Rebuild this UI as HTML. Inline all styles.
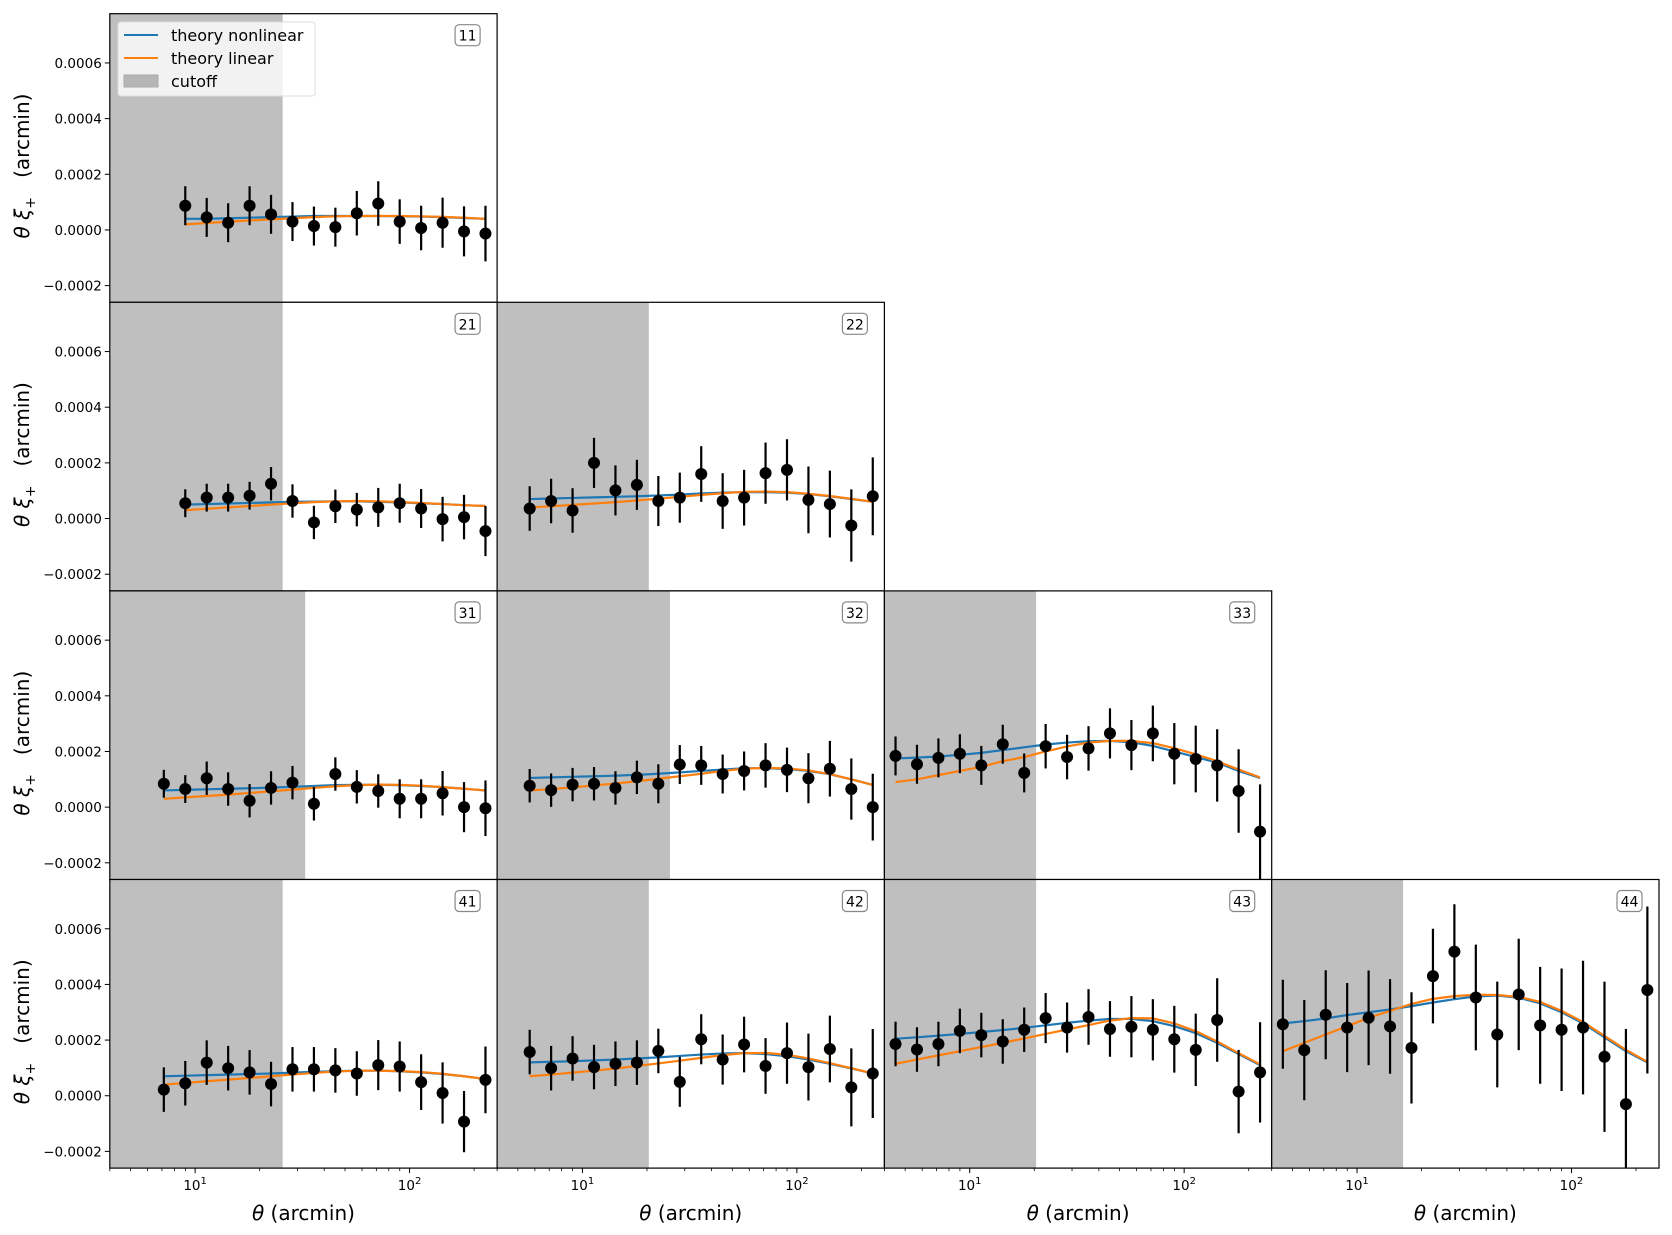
<!DOCTYPE html>
<html><head><meta charset="utf-8"><style>
html,body{margin:0;padding:0;background:#fff;}
svg{display:block;font-family:"DejaVu Sans","Liberation Sans",sans-serif;}
</style></head><body>
<svg id="fig" width="1672" height="1235" viewBox="0 0 1672 1235" xmlns="http://www.w3.org/2000/svg"></svg>
<script>
// ---- data ----
const logThetaStart = 0.654;          // log10(theta) of bin 0
const logThetaStep = 0.1;             // bin spacing in decades
const xDomain = [4.0, 256];
const yDomain = [-0.00026, 0.000777];
const yTicks = [-0.0002, 0, 0.0002, 0.0004, 0.0006];
const yTickLabels = ["\u22120.0002", "0.0000", "0.0002", "0.0004", "0.0006"];
const xTicks = [10, 100];
const panelIds = ["11","21","22","31","32","33","41","42","43","44"];
const panelStartBin = [3,3,1,2,1,0,2,1,0,0];
const cutoffs = [25.6,25.6,20.4,32.6,25.6,20.4,25.6,20.4,20.4,16.4];
const dataValues = [
 [0.000087,0.000045,0.000026,0.000087,0.000056,0.00003,0.000014,0.00001,0.00006,0.000095,0.00003,0.000007,0.000026,-0.000005,-0.000013],
 [0.000055,0.000075,0.000075,0.000082,0.000125,0.000063,-0.000014,0.000044,0.000032,0.00004,0.000055,0.000036,-0.000002,0.000005,-0.000045],
 [0.000036,0.000063,0.000029,0.0002,0.000101,0.000121,0.000063,0.000075,0.00016,0.000063,0.000075,0.000163,0.000175,0.000067,0.000052,-0.000025,0.00008],
 [0.000084,0.000065,0.000104,0.000065,0.000023,0.000069,0.000088,0.000012,0.000119,0.000073,0.000058,0.00003,0.00003,0.00005,0,-0.000004],
 [0.000077,0.000061,0.000081,0.000084,0.000069,0.000107,0.000084,0.000153,0.00015,0.000119,0.00013,0.00015,0.000134,0.000104,0.000138,0.000065,0],
 [0.000184,0.000154,0.000177,0.000192,0.00015,0.000226,0.000123,0.000219,0.00018,0.000211,0.000265,0.000223,0.000265,0.000192,0.000173,0.00015,0.000058,-0.000088],
 [0.000022,0.000045,0.000119,0.000099,0.000084,0.000042,0.000095,0.000095,0.000091,0.00008,0.00011,0.000105,0.000049,0.00001,-0.000093,0.000057],
 [0.000157,0.000099,0.000134,0.000103,0.000115,0.000119,0.000161,0.00005,0.000203,0.00013,0.000184,0.000107,0.000153,0.000103,0.000168,0.00003,0.00008],
 [0.000186,0.000166,0.000186,0.000233,0.000218,0.000195,0.000237,0.000279,0.000245,0.000283,0.00024,0.000248,0.000237,0.000203,0.000165,0.000272,0.000015,0.000084],
 [0.000257,0.000164,0.000291,0.000245,0.00028,0.000249,0.000172,0.00043,0.000518,0.000353,0.00022,0.000364,0.000253,0.000237,0.000245,0.00014,-0.00003,0.00038]
];
const dataErrors = [
 [7,7,7,7,7,7,7,7,8,8,8,8,9,9,10],
 [5,5,5,5,6,6,6,6,6,7,7,7,8,8,9],
 [8,8,8,9,9,9,9,9,10,10,10,11,11,12,12,13,14],
 [5,5,6,6,6,6,6,6,6,6,6,7,7,8,9,10],
 [6,6,6,6,6,6,7,7,7,7,7,8,8,9,10,11,12],
 [7,7,7,7,7,7,7,8,8,8,9,9,10,11,12,13,15,17],
 [8,8,8,8,8,8,8,8,8,8,9,9,10,11,11,12],
 [8,8,8,8,8,8,8,9,9,9,10,10,11,12,12,14,16],
 [8,8,8,8,8,8,8,9,9,10,10,11,11,12,13,15,15,18],
 [16,18,16,16,17,17,20,17,17,19,19,20,21,22,24,27,27,30]
];
const errUnit = 1e-5;
const theoryNonlinear = [
 [4,4,4,4,4,4.2,4.4,4.6,4.8,5,5,5,5,4.9,4.8,4.6,4.3,4],
 [5,5,5,5,5.2,5.4,5.6,5.8,6,6.1,6.2,6.2,6,5.8,5.5,5.2,4.8,4.5],
 [7,7,7.2,7.4,7.6,7.8,8,8.3,8.6,9,9.3,9.5,9.5,9.3,8.8,8,7,6],
 [6,6,6,6.2,6.4,6.6,6.8,7,7.3,7.6,7.9,8,8,7.9,7.6,7.2,6.6,6],
 [10.5,10.5,10.7,10.9,11.1,11.3,11.6,12,12.5,13,13.5,14,14,13.7,13,11.8,10,8],
 [17.5,17.8,18.2,18.8,19.5,20.5,21.5,22.5,23.2,23.7,23.8,23.3,22,20,18,16,13,10.5],
 [7,7,7,7.2,7.4,7.6,7.8,8,8.3,8.6,8.8,9,9,8.8,8.4,7.8,7,6],
 [12,12,12.2,12.4,12.7,13,13.4,13.8,14.3,14.8,15.2,15.3,15,14.2,13,11.5,9.8,8],
 [20.5,21,21.6,22.2,22.9,23.6,24.4,25.3,26.2,27,27.6,27.6,26.8,25,22.5,19,15,11],
 [26,26.8,27.8,29,30,31,32.2,33.5,34.7,35.7,36,35.2,33.2,30,26,21,16,12]
];
const theoryLinear = [
 [2,2,2,2,2.5,3,3.4,3.8,4.2,4.6,4.9,5,5,5,4.9,4.7,4.4,4],
 [3,3,3,3,3.5,4,4.5,5,5.5,5.9,6.2,6.3,6.2,5.9,5.6,5.2,4.8,4.5],
 [4,4,4.4,4.9,5.4,5.9,6.5,7.1,7.8,8.5,9.1,9.6,9.7,9.5,8.9,8.1,7.1,6],
 [3,3,3,3.5,4,4.5,5.1,5.7,6.3,6.9,7.5,7.9,8.1,8,7.7,7.2,6.6,6],
 [6,6,6.5,7.1,7.8,8.5,9.3,10.2,11.1,12,13,13.8,14.1,13.9,13.2,11.9,10,8],
 [9,10,11.5,13,14.5,16.5,18,20,21.8,23.2,23.8,23.8,23,21.2,19,16.5,13.5,10.7],
 [4,4,4,4.6,5.2,5.8,6.4,7,7.6,8.2,8.7,9,9,8.9,8.5,7.9,7,6],
 [7,7,7.6,8.3,9,9.8,10.7,11.6,12.6,13.6,14.6,15.3,15.4,14.7,13.4,11.7,9.9,8],
 [11.5,13,14.5,16,17.5,19,20.6,22.2,23.8,25.4,27,27.9,27.8,26,23.2,19.5,15.3,11.3],
 [16,19,22,25,28,30.5,33,34.8,35.8,36.3,36.2,35.5,33.7,30.5,26.5,21.5,16.5,12.2]
];
const panelRow = [0,1,1,2,2,2,3,3,3,3];
const panelCol = [0,0,1,0,1,2,0,1,2,3];
</script>
<script>
const NS = "http://www.w3.org/2000/svg";
const svg = document.getElementById("fig");
const X0 = 109.8, Y0 = 13.7, PW = 387.3, PH = 288.6;
function mk(tag, attrs, parent) {
  const e = document.createElementNS(NS, tag);
  for (const k in attrs) e.setAttribute(k, attrs[k]);
  (parent || svg).appendChild(e);
  return e;
}
const lx0 = Math.log10(xDomain[0]), lx1 = Math.log10(xDomain[1]);
function xScale(px, theta) { return px + (Math.log10(theta) - lx0) / (lx1 - lx0) * PW; }
function yScale(py, v) { return py + (yDomain[1] - v) / (yDomain[1] - yDomain[0]) * PH; }
function binTheta(k) { return Math.pow(10, logThetaStart + logThetaStep * k); }

panelIds.forEach((id, i) => {
  const px = X0 + panelCol[i] * PW, py = Y0 + panelRow[i] * PH;
  const g = mk("g", {});
  
  
  const bg = mk("rect", {x: px, y: py, width: PW, height: PH, fill: "#fff"}, g);
  
  
  const cut = mk("rect", {x: px, y: py, width: xScale(px, cutoffs[i]) - px, height: PH, fill: "#bfbfbf"}, g);
  
  
  const s = panelStartBin[i];
  const mkLine = (arr, color, name) => {
    let pts = [];
    for (let k = s; k < arr.length; k++) pts.push(xScale(px, binTheta(k)).toFixed(2) + "," + yScale(py, arr[k] * errUnit).toFixed(2));
    const l = mk("polyline", {points: pts.join(" "), fill: "none", stroke: color, "stroke-width": 2.2}, g);
    
    
  };
  mkLine(theoryNonlinear[i], "#1f77b4", "theory-nonlinear-line");
  mkLine(theoryLinear[i], "#ff7f0e", "theory-linear-line");
  dataValues[i].forEach((v, j) => {
    const k = s + j;
    const cx = xScale(px, binTheta(k));
    const e = dataErrors[i][j] * errUnit;
    const eb = mk("line", {x1: cx, x2: cx, y1: yScale(py, v + e), y2: Math.min(yScale(py, v - e), py + PH), stroke: "#000", "stroke-width": 2.2}, g);
    
    
    const c = mk("circle", {cx: cx, cy: yScale(py, v), r: 6, fill: "#000"}, g);
    
    
  });
  const fr = mk("rect", {x: px, y: py, width: PW, height: PH, fill: "none", stroke: "#000", "stroke-width": 1.2}, g);
  
  
  const lb = mk("rect", {x: px + PW - 42, y: py + 11, width: 25, height: 21, rx: 4, fill: "#fff", stroke: "#888", "stroke-width": 1.2}, g);
  
  
  const lt = mk("text", {x: px + PW - 29.5, y: py + 27, "font-size": 14, "text-anchor": "middle", fill: "#000"}, g);
  lt.textContent = id;
  
  

  if (panelCol[i] === 0) {
    yTicks.forEach((t, ti) => {
      const y = yScale(py, t);
      const tk = mk("line", {x1: px - 5, x2: px, y1: y, y2: y, stroke: "#000", "stroke-width": 1}, g);
      
      
      const tl = mk("text", {x: px - 8, y: y + 5, "font-size": 13.5, "text-anchor": "end"}, g);
      tl.textContent = yTickLabels[ti];
      
      
    });
    const cy = py + PH / 2 + 8;
    const yl = mk("text", {x: 0, y: 0, "font-size": 20, "text-anchor": "middle", transform: "translate(29," + cy + ") rotate(-90)"}, g);
    yl.innerHTML = '<tspan font-style="italic">θ ξ</tspan><tspan font-size="14" dy="6">+</tspan><tspan dy="-6" xml:space="preserve">   (arcmin)</tspan>';
    
    
  }
  if (panelRow[i] === 3) {
    const by = py + PH;
    for (let d = 0; d <= 2; d++) {
      for (let m = 1; m <= 9; m++) {
        const t = m * Math.pow(10, d);
        if (t < xDomain[0] || t > xDomain[1]) continue;
        const x = xScale(px, t);
        const major = m === 1;
        const tk = mk("line", {x1: x, x2: x, y1: by, y2: by + (major ? 5 : 3), stroke: "#000", "stroke-width": major ? 1 : 0.8}, g);
        
        
      }
    }
    xTicks.forEach(t => {
      const x = xScale(px, t);
      const tl = mk("text", {x: x, y: by + 22, "font-size": 13.5, "text-anchor": "middle"}, g);
      tl.innerHTML = '10<tspan font-size="10" dy="-6">' + Math.round(Math.log10(t)) + '</tspan>';
      
      
    });
    const xl = mk("text", {x: px + PW / 2, y: by + 52, "font-size": 20, "text-anchor": "middle"}, g);
    xl.innerHTML = '<tspan font-style="italic">θ</tspan> (arcmin)';
    
    
  }
});
const lg = mk("g", {});


const lbx = mk("rect", {x: 118, y: 22, width: 197, height: 74, rx: 3, fill: "#fff", "fill-opacity": 0.8, stroke: "#ddd"}, lg);


const entries = [["theory nonlinear", "#1f77b4", "line"], ["theory linear", "#ff7f0e", "line"], ["cutoff", "#bfbfbf", "patch"]];
entries.forEach((en, i) => {
  const y = 35 + i * 23;
  if (en[2] === "line") {
    const l = mk("line", {x1: 124, x2: 158, y1: y, y2: y, stroke: en[1], "stroke-width": 2}, lg);
    
    
  } else {
    const r = mk("rect", {x: 124, y: y - 6, width: 34, height: 12, fill: "#b5b5b5", stroke: "#aaa"}, lg);
    
    
  }
  const t = mk("text", {x: 171, y: y + 6, "font-size": 16}, lg);
  t.textContent = en[0];
  
  
});
</script>
</body></html>
